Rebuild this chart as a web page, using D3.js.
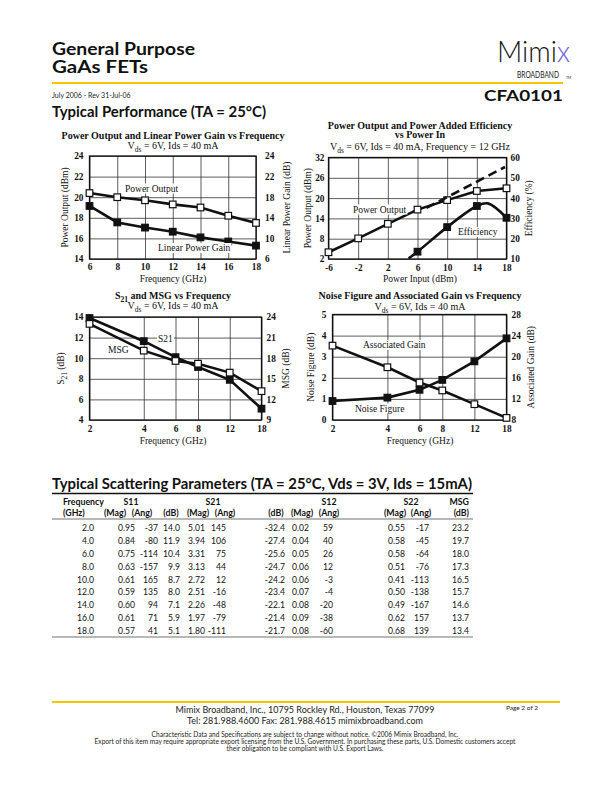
<!DOCTYPE html>
<html><head><meta charset="utf-8">
<script src="https://cdn.jsdelivr.net/npm/d3@7"></script>
<style>
html,body{margin:0;padding:0;background:#fff;}
svg{display:block;}
</style></head><body>
<svg id="page" width="612" height="792"></svg>
<script>
// ---------- Chart 1: Power Output and Linear Power Gain vs Frequency ----------
const c1Freq = [6, 8, 10, 12, 14, 16, 18];
const c1PowerOut = [20.4, 20.0, 19.7, 19.3, 19.0, 18.2, 17.5];
const c1LinGain = [16.3, 13.1, 12.1, 11.3, 10.2, 9.4, 8.6];
const c1XTicks = [6, 8, 10, 12, 14, 16, 18];
const c1YLTicks = [14, 16, 18, 20, 22, 24];
const c1YRTicks = [6, 10, 14, 18, 22, 26];
const c1YRLabels = ["6", "10", "14", "18", "22", "24"];

// ---------- Chart 2: Power Output and PAE vs Power In ----------
const c2Pin = [-6, -2, 2, 6, 10, 14, 18];
const c2PowerOut = [4.0, 8.1, 12.4, 16.6, 19.4, 22.1, 22.9];
const c2EffCurvePin = [4.8, 6, 10, 14, 15.5, 18];
const c2EffCurve = [10.3, 13.6, 25.7, 36.1, 37.4, 30.3];
const c2EffMarkPin = [6, 10, 14, 18];
const c2EffMark = [13.6, 25.7, 36.1, 30.3];
const c2DashPin = [7.2, 17.8];
const c2Dash = [17.1, 29.2];
const c2XTicks = [-6, -2, 2, 6, 10, 14, 18];
const c2YLTicks = [2, 8, 14, 20, 26, 32];
const c2YRTicks = [10, 20, 30, 40, 50, 60];

// ---------- Chart 3: S21 and MSG vs Frequency ----------
const c3Freq = [2, 4, 6, 8, 12, 18];
const c3S21 = [13.9, 11.65, 10.1, 9.15, 7.9, 5.1];
const c3MSG = [23.0, 19.1, 17.6, 17.2, 15.9, 13.2];
const c3XTicks = [2, 4, 6, 8, 12, 18];
const c3YLTicks = [4, 6, 8, 10, 12, 14];
const c3YRTicks = [9, 12, 15, 18, 21, 24];

// ---------- Chart 4: Noise Figure and Associated Gain vs Frequency ----------
const c4Freq = [2, 4, 6, 8, 12, 18];
const c4NF = [0.9, 1.06, 1.43, 1.9, 2.78, 3.87];
const c4AG = [22.1, 18.0, 15.1, 13.6, 11.0, 8.4];
const c4XTicks = [2, 4, 6, 8, 12, 18];
const c4YLTicks = [0, 1, 2, 3, 4, 5];
const c4YRTicks = [8, 12, 16, 20, 24, 28];

// ---------- Scattering parameter table ----------
const tFreq = ["2.0", "4.0", "6.0", "8.0", "10.0", "12.0", "14.0", "16.0", "18.0"];
const tS11Mag = ["0.95", "0.84", "0.75", "0.63", "0.61", "0.59", "0.60", "0.61", "0.57"];
const tS11Ang = ["-37", "-80", "-114", "-157", "165", "135", "94", "71", "41"];
const tS21dB = ["14.0", "11.9", "10.4", "9.9", "8.7", "8.0", "7.1", "5.9", "5.1"];
const tS21Mag = ["5.01", "3.94", "3.31", "3.13", "2.72", "2.51", "2.26", "1.97", "1.80"];
const tS21Ang = ["145", "106", "75", "44", "12", "-16", "-48", "-79", "-111"];
const tS12dB = ["-32.4", "-27.4", "-25.6", "-24.7", "-24.2", "-23.4", "-22.1", "-21.4", "-21.7"];
const tS12Mag = ["0.02", "0.04", "0.05", "0.06", "0.06", "0.07", "0.08", "0.09", "0.08"];
const tS12Ang = ["59", "40", "26", "12", "-3", "-4", "-20", "-38", "-60"];
const tS22Mag = ["0.55", "0.58", "0.58", "0.51", "0.41", "0.50", "0.49", "0.62", "0.68"];
const tS22Ang = ["-17", "-45", "-64", "-76", "-113", "-138", "-167", "157", "139"];
const tMSG = ["23.2", "19.7", "18.0", "17.3", "16.5", "15.7", "14.6", "13.7", "13.4"];

const SERIF = "'Liberation Serif','Times New Roman',serif";
const SANS = "Lato,'Open Sans','DejaVu Sans',sans-serif";
const YELLOW = "#f7c600";
const svg = d3.select("#page");

// ---------- Header ----------
svg.append("text").attr("x", 52).attr("y", 55).text("General Purpose")
  .attr("font-family", SANS).attr("font-weight", 700).attr("font-size", 16.5).attr("fill", "#111")
  .attr("textLength", 143).attr("lengthAdjust", "spacingAndGlyphs");
svg.append("text").attr("x", 52).attr("y", 73).text("GaAs FETs")
  .attr("font-family", SANS).attr("font-weight", 700).attr("font-size", 16.5).attr("fill", "#111")
  .attr("textLength", 96).attr("lengthAdjust", "spacingAndGlyphs");
svg.append("line").attr("x1", 52).attr("x2", 563).attr("y1", 83).attr("y2", 83)
  .attr("stroke", YELLOW).attr("stroke-width", 2.2);
svg.append("text").attr("x", 52).attr("y", 98).text("July 2006 - Rev 31-Jul-06")
  .attr("font-family", SANS).attr("font-size", 7).attr("fill", "#222");
svg.append("text").attr("x", 484).attr("y", 101).text("CFA0101")
  .attr("font-family", SANS).attr("font-weight", 700).attr("font-size", 15).attr("fill", "#111")
  .attr("textLength", 79).attr("lengthAdjust", "spacingAndGlyphs");
// logo
const logo = svg.append("text").attr("x", 497).attr("y", 62)
  .attr("font-family", SANS).attr("font-weight", 300).attr("font-size", 30).attr("fill", "#111")
  .attr("textLength", 73).attr("lengthAdjust", "spacingAndGlyphs");
logo.append("tspan").text("Mimi");
logo.append("tspan").text("x").attr("fill", "#6f5fd8");
svg.append("text").attr("x", 517).attr("y", 78).text("BROADBAND")
  .attr("font-family", SANS).attr("font-size", 9.2).attr("fill", "#222")
  .attr("textLength", 42).attr("lengthAdjust", "spacingAndGlyphs");
svg.append("text").attr("x", 566).attr("y", 78.5).text("TM")
  .attr("font-family", SANS).attr("font-size", 3.5).attr("fill", "#222");

svg.append("text").attr("x", 52).attr("y", 117).text("Typical Performance (TA = 25°C)")
  .attr("font-family", SANS).attr("font-weight", 700).attr("font-size", 14.5).attr("fill", "#111")
  .attr("textLength", 214).attr("lengthAdjust", "spacingAndGlyphs");

// ---------- Chart helper ----------
function addSubText(sel, parts) {
  parts.forEach(p => {
    const t = sel.append("tspan").text(p.t);
    if (p.sub) t.attr("font-size", 7.5).attr("dy", 3);
    if (p.up) t.attr("dy", -3);
  });
}
const fmtInt = d => String(d);

function drawChart(o) {
  const g = svg.append("g");
  const x = (o.xLog ? d3.scaleLog() : d3.scaleLinear()).domain(o.xDomain).range([o.x0, o.x1]);
  const yL = d3.scaleLinear().domain(o.yLDomain).range([o.y1, o.y0]);
  const yR = d3.scaleLinear().domain(o.yRDomain).range([o.y1, o.y0]);
  const h = o.y1 - o.y0, w = o.x1 - o.x0;

  const gx = g.append("g").attr("transform", `translate(0,${o.y1})`)
    .call(d3.axisBottom(x).tickValues(o.xTicks).tickSize(-h).tickPadding(o.bPad || 5).tickFormat(fmtInt));
  const gl = g.append("g").attr("transform", `translate(${o.x0},0)`)
    .call(d3.axisLeft(yL).tickValues(o.yLTicks).tickSize(-w).tickPadding(o.lPad || 5).tickFormat(fmtInt));
  const gr = g.append("g").attr("transform", `translate(${o.x1},0)`)
    .call(d3.axisRight(yR).tickValues(o.yRTicks).tickSize(0).tickPadding(o.rPad || 5)
      .tickFormat(o.yRLabels ? ((d, i) => o.yRLabels[i]) : fmtInt));
  [gx, gl, gr].forEach(a => {
    a.select(".domain").remove();
    a.selectAll("line").attr("stroke", "#333").attr("stroke-width", 0.8);
    a.selectAll("text").attr("font-family", SERIF).attr("font-weight", 700)
      .attr("font-size", 9.3).attr("fill", "#111");
  });
  g.append("rect").attr("x", o.x0).attr("y", o.y0).attr("width", w).attr("height", h)
    .attr("fill", "none").attr("stroke", "#111").attr("stroke-width", 1.3);

  o.titles.forEach(tt => {
    const t = g.append("text").attr("x", o.cx).attr("y", tt.y).attr("text-anchor", "middle")
      .attr("font-family", SERIF).attr("font-size", 10).attr("fill", "#111")
      .attr("font-weight", tt.bold ? 700 : 400);
    addSubText(t, tt.parts);
  });
  g.append("text").attr("x", o.cx).attr("y", o.xTitleY).attr("text-anchor", "middle")
    .attr("font-family", SERIF).attr("font-size", 9.5).attr("fill", "#111").text(o.xTitle);
  [[o.yLTitle, o.yLTitleX], [o.yRTitle, o.yRTitleX]].forEach(([parts, xx]) => {
    const cy = (o.y0 + o.y1) / 2;
    const t = g.append("text").attr("transform", `translate(${xx},${cy}) rotate(-90)`)
      .attr("text-anchor", "middle").attr("font-family", SERIF).attr("font-size", 9.5).attr("fill", "#111");
    addSubText(t, parts);
  });

  o.series.forEach(s => {
    const ys = s.axis === "R" ? yR : yL;
    const pts = s.xs.map((v, i) => [x(v), ys(s.ys[i])]);
    const line = d3.line().curve(s.curve || d3.curveLinear);
    g.append("path").attr("d", line(pts)).attr("fill", "none").attr("stroke", "#111")
      .attr("stroke-width", s.width || 2.6).attr("stroke-dasharray", s.dash || null);
    if (s.mark) {
      const mx = s.markXs || s.xs, my = s.markYs || s.ys;
      g.append("g").selectAll("rect").data(mx).join("rect")
        .attr("x", (d) => x(d) - 3.3).attr("y", (d, i) => ys(my[i]) - 3.3)
        .attr("width", 6.6).attr("height", 6.6)
        .attr("fill", s.mark === "open" ? "#fff" : "#111")
        .attr("stroke", "#111").attr("stroke-width", 1.2);
    }
  });
  o.labels.forEach(l => {
    const t = g.append("text").attr("x", l.x).attr("y", l.y)
      .attr("font-family", SERIF).attr("font-size", 9.5).attr("fill", "#111");
    addSubText(t, l.parts);
    const bb = t.node().getBBox();
    g.insert("rect", () => t.node()).attr("x", bb.x - 1).attr("y", bb.y)
      .attr("width", bb.width + 2).attr("height", bb.height).attr("fill", "#fff");
  });
}

const vdsParts = [{t: "V"}, {t: "ds", sub: true}, {t: " = 6V, Ids = 40 mA", up: true}];

drawChart({
  x0: 89.5, x1: 256, y0: 156, y1: 259, cx: 173,
  xDomain: [6, 18], yLDomain: [14, 24], yRDomain: [6, 26],
  xTicks: c1XTicks, yLTicks: c1YLTicks, yRTicks: c1YRTicks, yRLabels: c1YRLabels,
  lPad: 6, rPad: 9, bPad: 4,
  titles: [
    {y: 138.5, bold: true, parts: [{t: "Power Output and Linear Power Gain vs Frequency"}]},
    {y: 148.5, parts: vdsParts}],
  xTitle: "Frequency (GHz)", xTitleY: 281.5,
  yLTitle: [{t: "Power Output (dBm)"}], yLTitleX: 67.5,
  yRTitle: [{t: "Linear Power Gain (dB)"}], yRTitleX: 290,
  series: [
    {xs: c1Freq, ys: c1PowerOut, axis: "L", mark: "open"},
    {xs: c1Freq, ys: c1LinGain, axis: "R", mark: "filled"}],
  labels: [
    {x: 125, y: 191.5, parts: [{t: "Power Output"}]},
    {x: 158, y: 251, parts: [{t: "Linear Power Gain"}]}]
});

drawChart({
  x0: 328.5, x1: 506.5, y0: 157.5, y1: 259, cx: 420,
  xDomain: [-6, 18], yLDomain: [2, 32], yRDomain: [10, 60],
  xTicks: c2XTicks, yLTicks: c2YLTicks, yRTicks: c2YRTicks,
  lPad: 4, rPad: 4, bPad: 5,
  titles: [
    {y: 128.5, bold: true, parts: [{t: "Power Output and Power Added Efficiency"}]},
    {y: 138, bold: true, parts: [{t: "vs Power In"}]},
    {y: 149.5, parts: [{t: "V"}, {t: "ds", sub: true}, {t: " = 6V, Ids = 40 mA, Frequency = 12 GHz", up: true}]}],
  xTitle: "Power Input (dBm)", xTitleY: 281.5,
  yLTitle: [{t: "Power Output (dBm)"}], yLTitleX: 311,
  yRTitle: [{t: "Efficiency (%)"}], yRTitleX: 531.5,
  series: [
    {xs: c2Pin, ys: c2PowerOut, axis: "L", mark: "open"},
    {xs: c2EffCurvePin, ys: c2EffCurve, axis: "R", mark: "filled", curve: d3.curveCatmullRom,
      markXs: c2EffMarkPin, markYs: c2EffMark},
    {xs: c2DashPin, ys: c2Dash, axis: "L", dash: "9,5"}],
  labels: [
    {x: 353, y: 212.5, parts: [{t: "Power Output"}]},
    {x: 458, y: 235, parts: [{t: "Efficiency"}]}]
});

drawChart({
  x0: 89.5, x1: 261.5, y0: 317, y1: 420, cx: 173, xLog: true,
  xDomain: [2, 18], yLDomain: [4, 14], yRDomain: [9, 24],
  xTicks: c3XTicks, yLTicks: c3YLTicks, yRTicks: c3YRTicks,
  lPad: 6, rPad: 5, bPad: 5,
  titles: [
    {y: 298.5, bold: true, parts: [{t: "S"}, {t: "21", sub: true}, {t: " and MSG vs Frequency", up: true}]},
    {y: 309, parts: vdsParts}],
  xTitle: "Frequency (GHz)", xTitleY: 443.5,
  yLTitle: [{t: "S"}, {t: "21", sub: true}, {t: " (dB)", up: true}], yLTitleX: 63.5,
  yRTitle: [{t: "MSG (dB)"}], yRTitleX: 288.5,
  series: [
    {xs: c3Freq, ys: c3S21, axis: "L", mark: "filled"},
    {xs: c3Freq, ys: c3MSG, axis: "R", mark: "open"}],
  labels: [
    {x: 158, y: 341.5, parts: [{t: "S21"}]},
    {x: 108, y: 353, parts: [{t: "MSG"}]}]
});

drawChart({
  x0: 332.5, x1: 506.5, y0: 314.5, y1: 420, cx: 420, xLog: true,
  xDomain: [2, 18], yLDomain: [0, 5], yRDomain: [8, 28],
  xTicks: c4XTicks, yLTicks: c4YLTicks, yRTicks: c4YRTicks,
  lPad: 6, rPad: 5, bPad: 5,
  titles: [
    {y: 298.5, bold: true, parts: [{t: "Noise Figure and Associated Gain vs Frequency"}]},
    {y: 309.5, parts: vdsParts}],
  xTitle: "Frequency (GHz)", xTitleY: 444,
  yLTitle: [{t: "Noise Figure (dB)"}], yLTitleX: 313.5,
  yRTitle: [{t: "Associated Gain (dB)"}], yRTitleX: 533.5,
  series: [
    {xs: c4Freq, ys: c4NF, axis: "L", mark: "filled"},
    {xs: c4Freq, ys: c4AG, axis: "R", mark: "open"}],
  labels: [
    {x: 363, y: 348, parts: [{t: "Associated Gain"}]},
    {x: 355, y: 411.5, parts: [{t: "Noise Figure"}]}]
});

// ---------- Table ----------
svg.append("text").attr("x", 52).attr("y", 488.5)
  .text("Typical Scattering Parameters (TA = 25°C, Vds = 3V, Ids = 15mA)")
  .attr("font-family", SANS).attr("font-weight", 700).attr("font-size", 14.5).attr("fill", "#111")
  .attr("textLength", 420).attr("lengthAdjust", "spacingAndGlyphs");
svg.append("line").attr("x1", 52).attr("x2", 473).attr("y1", 493.5).attr("y2", 493.5)
  .attr("stroke", "#111").attr("stroke-width", 1.5);
svg.append("line").attr("x1", 52).attr("x2", 473).attr("y1", 519).attr("y2", 519)
  .attr("stroke", "#111").attr("stroke-width", 0.6);
svg.append("line").attr("x1", 52).attr("x2", 473).attr("y1", 637).attr("y2", 637)
  .attr("stroke", "#111").attr("stroke-width", 0.6);

const colRight = [94, 135, 158, 180, 205, 226, 285, 309, 333, 405, 429, 469];
const cols = [tFreq, tS11Mag, tS11Ang, tS21dB, tS21Mag, tS21Ang, tS12dB, tS12Mag, tS12Ang, tS22Mag, tS22Ang, tMSG];
const hdr1 = [["Frequency", 63, "start"], ["S11", 131, "middle"], ["S21", 213, "middle"],
  ["S12", 329, "middle"], ["S22", 411, "middle"], ["MSG", 469, "end"]];
const hdr2 = [["(GHz)", 63, "start"], ["(Mag)", 115, "middle"], ["(Ang)", 142, "middle"],
  ["(dB)", 171, "middle"], ["(Mag)", 198, "middle"], ["(Ang)", 225, "middle"],
  ["(dB)", 276, "middle"], ["(Mag)", 302, "middle"], ["(Ang)", 329, "middle"],
  ["(Mag)", 395, "middle"], ["(Ang)", 421, "middle"], ["(dB)", 469, "end"]];
svg.append("g").selectAll("text").data(hdr1).join("text")
  .attr("x", d => d[1]).attr("y", 505).attr("text-anchor", d => d[2]).text(d => d[0])
  .attr("font-family", SANS).attr("font-weight", 700).attr("font-size", 8.8).attr("fill", "#111");
svg.append("g").selectAll("text").data(hdr2).join("text")
  .attr("x", d => d[1]).attr("y", 515.5).attr("text-anchor", d => d[2]).text(d => d[0])
  .attr("font-family", SANS).attr("font-weight", 700).attr("font-size", 8.8).attr("fill", "#111");
const rowY = d3.scaleLinear().domain([0, 8]).range([531, 634]);
cols.forEach((col, ci) => {
  svg.append("g").selectAll("text").data(col).join("text")
    .attr("x", colRight[ci]).attr("y", (d, i) => rowY(i)).attr("text-anchor", "end").text(d => d)
    .attr("font-family", SANS).attr("font-size", 8.6).attr("fill", "#111");
});

// ---------- Footer ----------
svg.append("line").attr("x1", 52).attr("x2", 560).attr("y1", 702).attr("y2", 702)
  .attr("stroke", YELLOW).attr("stroke-width", 2.2);
const foot = [
  ["Mimix Broadband, Inc., 10795 Rockley Rd., Houston, Texas 77099", 713, 9],
  ["Tel: 281.988.4600  Fax: 281.988.4615  mimixbroadband.com", 724, 9],
  ["Characteristic Data and Specifications are subject to change without notice. ©2006 Mimix Broadband, Inc.", 737, 6.6],
  ["Export of this item may require appropriate export licensing from the U.S. Government. In purchasing these parts, U.S. Domestic customers accept", 744, 6.6],
  ["their obligation to be compliant with U.S. Export Laws.", 751, 6.6]];
svg.append("g").selectAll("text").data(foot).join("text")
  .attr("x", 305).attr("y", d => d[1]).attr("text-anchor", "middle").text(d => d[0])
  .attr("font-family", SANS).attr("font-size", d => d[2]).attr("fill", "#222");
svg.append("text").attr("x", 538).attr("y", 710).attr("text-anchor", "end").text("Page 2 of 2")
  .attr("font-family", SANS).attr("font-size", 6.5).attr("fill", "#222");
</script>
</body></html>
